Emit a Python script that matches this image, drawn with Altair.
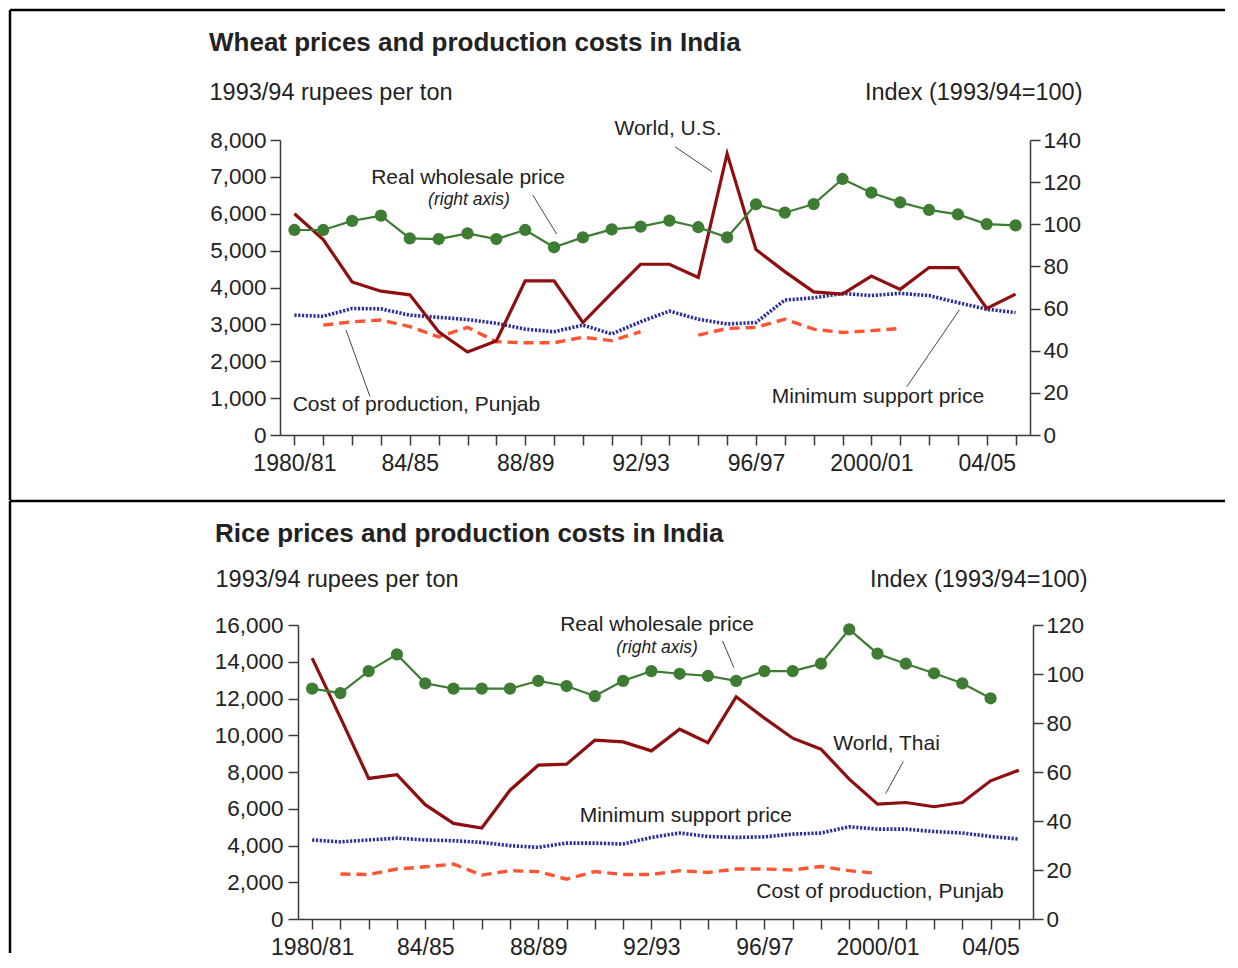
import altair as alt
import pandas as pd

FONT = "Liberation Sans"
RED = "#8E0F0F"
GREEN = "#3E7B33"
BLUE = "#2B2E9C"
ORANGE = "#FF5533"
AXIS = "#3a3a3a"
TXT = "#222222"

YEARS = ["1980/81", "81/82", "82/83", "83/84", "84/85", "85/86", "86/87", "87/88",
         "88/89", "89/90", "90/91", "91/92", "92/93", "93/94", "94/95", "95/96",
         "96/97", "97/98", "98/99", "99/2000", "2000/01", "01/02", "02/03", "03/04",
         "04/05", "05/06"]
TICK_LABELS = ["1980/81", "84/85", "88/89", "92/93", "96/97", "2000/01", "04/05"]

# ---- Wheat ----
WHEAT_WORLD_US = [6000, 5300, 4150, 3900, 3800, 2800, 2250, 2550, 4180, 4180, 3050, 3850, 4630,
                  4630, 4270, 7630, 5030, 4430, 3880, 3820, 4310, 3950, 4540, 4540, 3430, 3820]
WHEAT_WHOLESALE_INDEX = [97.3, 97.3, 101.6, 104.1, 93.3, 93.0, 95.7, 93.0, 97.3, 89.1, 93.8, 97.6, 98.9,
                         101.7, 98.6, 93.8, 109.5, 105.5, 109.6, 121.5, 115.0, 110.4, 106.8, 104.7, 100.1, 99.5]
WHEAT_MSP = [3250, 3220, 3430, 3420, 3250, 3190, 3130, 3030, 2870, 2800, 2980, 2740, 3070,
             3360, 3140, 3010, 3050, 3660, 3720, 3840, 3780, 3840, 3780, 3590, 3410, 3320]
WHEAT_COST_PUNJAB = [None, 2980, 3070, 3120, 2940, 2660, 2920, 2530, 2500, 2500, 2650, 2560, 2800,
                     None, 2710, 2890, 2920, 3140, 2870, 2780, 2830, 2890, None, None, None, None]

# ---- Rice ----
RICE_WORLD_THAI = [14200, 10960, 7650, 7850, 6220, 5200, 4950, 7010, 8370, 8430, 9730, 9640, 9150,
                   10330, 9600, 12090, 10930, 9840, 9240, 7610, 6250, 6340, 6110, 6340, 7520, 8100]
RICE_WHOLESALE_INDEX = [94.0, 92.2, 101.2, 108.0, 96.2, 94.0, 94.0, 94.0, 97.2, 95.1, 91.0, 97.2, 101.2,
                        100.1, 99.2, 97.2, 101.2, 101.2, 104.2, 118.2, 108.3, 104.2, 100.3, 96.2, 90.1, None]
RICE_MSP = [4300, 4200, 4300, 4400, 4300, 4260, 4170, 3990, 3900, 4130, 4130, 4080, 4440,
            4680, 4490, 4440, 4470, 4620, 4680, 5020, 4890, 4890, 4760, 4680, 4490, 4350]
RICE_COST_PUNJAB = [None, 2450, 2420, 2720, 2840, 2990, 2390, 2630, 2580, 2170, 2580, 2420, 2420,
                    2630, 2530, 2720, 2720, 2670, 2860, 2630, 2480, None, None, None, None, None]

# annotation labels (x in year index, y in left-axis units)
WHEAT_LABELS = ["Real wholesale price", "World, U.S.", "Cost of production, Punjab", "Minimum support price"]
WHEAT_LABEL_X = [6.02, 12.95, 4.23, 20.23]
WHEAT_LABEL_Y = [6970, 8300, 814, 1030]
WHEAT_NOTE_X, WHEAT_NOTE_Y = 6.05, 6370
WHEAT_LEADERS = [(8.26, 6508, 9.09, 5451), (13.19, 7819, 14.47, 7141),
                 (1.79, 2847, 2.62, 1039), (21.23, 1310, 23.05, 3390)]

RICE_LABELS = ["Real wholesale price", "World, Thai", "Minimum support price", "Cost of production, Punjab"]
RICE_LABEL_X = [12.2, 20.32, 13.22, 20.09]
RICE_LABEL_Y = [16000, 9530, 5616, 1446]
RICE_NOTE_X, RICE_NOTE_Y = 12.2, 14750
RICE_LEADERS = [(14.52, 15130, 14.92, 13680), (20.91, 8568, 20.29, 6828)]


def long_df(values, field):
    rows, seg, prev = [], 0, False
    for i, v in enumerate(values):
        if v is None:
            if prev:
                seg += 1
            prev = False
            continue
        rows.append({"i": i, field: v, "seg": seg})
        prev = True
    return pd.DataFrame(rows)


LABEL_EXPR = ("datum.value % 4 == 0 ? [" + ",".join("'%s'" % t for t in TICK_LABELS)
              + "][datum.value / 4] : ''")

ONE = pd.DataFrame({"a": [0]})
OX = 280  # common plot-area origin (absolute px) of both panels


def panel(title, world, wholesale, msp, cost, lmax, lstep, rmax, x0, x1, H, oy,
          title_pos, axis_title_y, left_title_x, right_title_x,
          labels, lx, ly, note_x, note_y, leaders, left_pad, frame_top, frame_bottom):
    W = x1 - OX
    shift = x0 - OX
    xs = alt.Scale(domain=[-0.5, 25.5], nice=False, zero=False, range=[shift, W])
    xaxis = alt.Axis(values=list(range(len(YEARS))), labelExpr=LABEL_EXPR, title=None,
                     tickSize=10, labelPadding=7, labelFlush=False, labelOverlap=False,
                     grid=False, domainColor=AXIS, tickColor=AXIS, domainWidth=1.5, tickWidth=1.5,
                     labelFontSize=23, labelColor=TXT, labelFont=FONT)
    X = alt.X("i:Q", scale=xs, axis=xaxis)
    YL = alt.Y("v:Q", scale=alt.Scale(domain=[0, lmax], nice=False, zero=True),
               axis=alt.Axis(values=list(range(0, lmax + 1, lstep)), format=",.0f", tickSize=10,
                             offset=-shift,
                             labelPadding=left_pad, grid=False, domainColor=AXIS, tickColor=AXIS,
                             domainWidth=1.5, tickWidth=1.5, labelFontSize=22.5, labelColor=TXT,
                             labelFont=FONT, title="1993/94 rupees per ton", titleAngle=0,
                             titleAlign="left", titleBaseline="middle", titleX=left_title_x,
                             titleY=axis_title_y, titleFontSize=23.5, titleFontWeight="normal",
                             titleColor=TXT, titleFont=FONT))
    YR = alt.Y("r:Q", scale=alt.Scale(domain=[0, rmax], nice=False, zero=True),
               axis=alt.Axis(orient="right", values=list(range(0, rmax + 1, 20)), tickSize=10,
                             labelPadding=3, grid=False, domainColor=AXIS, tickColor=AXIS,
                             domainWidth=1.5, tickWidth=1.5, labelFontSize=22.5, labelColor=TXT,
                             labelFont=FONT, title="Index (1993/94=100)", titleAngle=0,
                             titleAlign="right", titleBaseline="middle", titleX=right_title_x,
                             titleY=axis_title_y, titleFontSize=23.5, titleFontWeight="normal",
                             titleColor=TXT, titleFont=FONT))

    # decorative frame (pixel positions relative to this panel's plot area)
    fl = 10 - OX
    fr = 1225 - OX
    frame_h = alt.Chart(ONE).mark_rule(color="black", strokeWidth=2.5).encode(
        x=alt.value(fl), x2=alt.value(fr), y=alt.value(frame_top))
    frame_v = alt.Chart(ONE).mark_rule(color="black", strokeWidth=2.5).encode(
        x=alt.value(fl), y=alt.value(frame_top), y2=alt.value(frame_bottom))
    ttl = alt.Chart(ONE).mark_text(text=title, align="left", baseline="middle", fontSize=26,
                                   fontWeight="bold", font=FONT, color=TXT).encode(
        x=alt.value(title_pos[0] - OX), y=alt.value(title_pos[1] - oy))

    world_l = alt.Chart(long_df(world, "v")).mark_line(color=RED, strokeWidth=3.2).encode(
        x=X, y=YL, detail="seg:N")
    msp_l = alt.Chart(long_df(msp, "v")).mark_line(color=BLUE, strokeWidth=3.6,
                                                   strokeDash=[2.2, 1.6]).encode(
        x=X, y=YL, detail="seg:N")
    cost_l = alt.Chart(long_df(cost, "v")).mark_line(color=ORANGE, strokeWidth=3.4,
                                                     strokeDash=[10, 6]).encode(
        x=X, y=YL, detail="seg:N")

    ann_df = pd.DataFrame({"i": lx, "v": ly, "label": labels})
    ann = alt.Chart(ann_df).mark_text(fontSize=21, font=FONT, color=TXT, align="center",
                                      baseline="middle").encode(x=X, y=YL, text="label:N")
    note = alt.Chart(pd.DataFrame({"i": [note_x], "v": [note_y], "label": ["(right axis)"]})).mark_text(
        fontSize=17.5, font=FONT, fontStyle="italic", color=TXT, align="center",
        baseline="middle").encode(x=X, y=YL, text="label:N")
    lead_df = pd.DataFrame(leaders, columns=["i", "v", "i2", "v2"])
    lead = alt.Chart(lead_df).mark_rule(color="#444444", strokeWidth=1).encode(
        x=X, y=YL, x2="i2:Q", y2="v2:Q")

    left = alt.layer(frame_h, frame_v, ttl, msp_l, cost_l, world_l, lead, ann, note)

    gdf = long_df(wholesale, "r")
    g_line = alt.Chart(gdf).mark_line(color=GREEN, strokeWidth=2.2).encode(x=X, y=YR, detail="seg:N")
    g_pts = alt.Chart(gdf).mark_point(filled=True, size=150, opacity=1, color=GREEN).encode(x=X, y=YR)
    right = alt.layer(g_line, g_pts)

    return alt.layer(left, right).resolve_scale(y="independent").properties(width=W, height=H)


wheat = panel("Wheat prices and production costs in India", WHEAT_WORLD_US, WHEAT_WHOLESALE_INDEX,
              WHEAT_MSP, WHEAT_COST_PUNJAB, 8000, 1000, 140, 280, 1030, 295, 140,
              (209, 43), -48, -71, 52,
              WHEAT_LABELS, WHEAT_LABEL_X, WHEAT_LABEL_Y, WHEAT_NOTE_X, WHEAT_NOTE_Y, WHEAT_LEADERS,
              4, -130, 360)

rice = panel("Rice prices and production costs in India", RICE_WORLD_THAI, RICE_WHOLESALE_INDEX,
             RICE_MSP, RICE_COST_PUNJAB, 16000, 2000, 120, 298, 1033, 294, 624,
             (215, 533), -46, -83, 54,
             RICE_LABELS, RICE_LABEL_X, RICE_LABEL_Y, RICE_NOTE_X, RICE_NOTE_Y, RICE_LEADERS,
             5, -124, 328)

chart = alt.vconcat(wheat, rice, spacing=-3).properties(
    padding=0
).configure_view(stroke="transparent")

chart.save("out.html", embed_options={"renderer": "svg", "actions": False})
